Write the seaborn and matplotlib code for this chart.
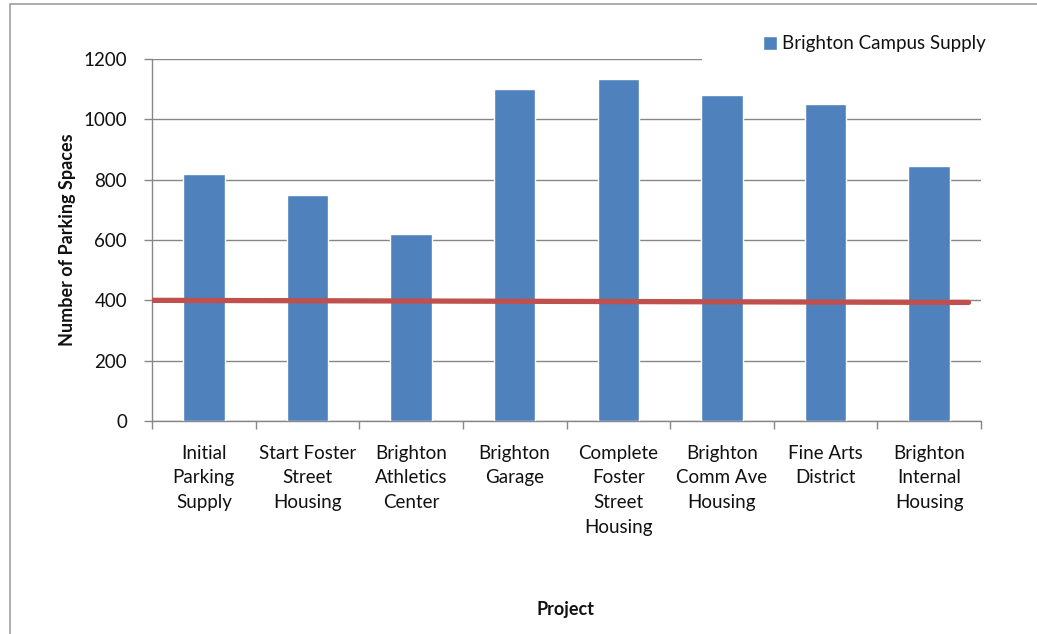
import matplotlib
matplotlib.use("Agg")
import matplotlib.pyplot as plt
import seaborn as sns
import pandas as pd
from matplotlib.patches import Rectangle

projects = ["Initial\nParking\nSupply", "Start Foster\nStreet\nHousing", "Brighton\nAthletics\nCenter",
            "Brighton\nGarage", "Complete\nFoster\nStreet\nHousing", "Brighton\nComm Ave\nHousing",
            "Fine Arts\nDistrict", "Brighton\nInternal\nHousing"]
supply = [820, 750, 620, 1100, 1135, 1080, 1052, 846]
series_name = "Brighton Campus Supply"
target_x = [-0.5, 7.38]
target_values = [400, 393]
y_ticks = [0, 200, 400, 600, 800, 1000, 1200]

sns.set_theme(style="white")
plt.rcParams['font.family'] = ['Lato', 'DejaVu Sans']

W, H = 1037, 634
TXT = "#111111"
fig = plt.figure(figsize=(W / 100, H / 100), dpi=100)
fig.patch.set_facecolor("white")
ax = fig.add_axes([152 / W, 1 - 421 / H, (981 - 152) / W, (421 - 59) / H])

df = pd.DataFrame({"project": projects, "supply": supply})
sns.barplot(data=df, x="project", y="supply", color="#4F81BD", width=0.4,
            saturation=1, ax=ax, zorder=3, label=series_name)
sns.lineplot(x=target_x, y=target_values, color="#C0504D", linewidth=3.8,
             ax=ax, zorder=4, legend=False)

ax.set_ylim(0, 1200)
ax.set_xlim(-0.5, 7.5)
ax.set_yticks(y_ticks)
ax.yaxis.grid(True, color="#878787", linewidth=1.0, zorder=0)
ax.xaxis.grid(False)
ax.set_axisbelow(True)

# category boundary ticks (major) and centred labels (minor)
ax.set_xticks([i - 0.5 for i in range(len(projects) + 1)])
ax.set_xticklabels([])
ax.set_xticks(range(len(projects)), minor=True)
ax.set_xticklabels(projects, minor=True, fontsize=13.5, color=TXT,
                   linespacing=1.56, va="top")
ax.tick_params(axis="x", which="major", direction="out", length=6, width=1,
               color="#878787", bottom=True)
ax.tick_params(axis="x", which="minor", length=0, pad=17)
ax.tick_params(axis="y", direction="out", length=6, width=1, color="#878787",
               left=True, labelsize=13.5, labelcolor=TXT, pad=12)

for s in ["top", "right"]:
    ax.spines[s].set_visible(False)
for s in ["left", "bottom"]:
    ax.spines[s].set_color("#878787")
    ax.spines[s].set_linewidth(1.0)

ax.set_xlabel("")
ax.set_ylabel("Number of Parking Spaces", fontsize=13, fontweight="bold",
              color=TXT, labelpad=5)
fig.text(566 / W, 1 - 610 / H, "Project", ha="center", va="center",
         fontsize=13, fontweight="bold", color=TXT)

# white legend area covering the top gridline
ax.add_patch(Rectangle((702 / W, 1 - 68 / H), 300 / W, 40 / H,
                       transform=fig.transFigure, facecolor="white",
                       edgecolor="none", zorder=4.5, clip_on=False))
leg = ax.legend(loc="center left", bbox_to_anchor=(763 / W, 1 - 44 / H),
                bbox_transform=fig.transFigure, frameon=False,
                prop={"size": 13.5},
                handlelength=0.72, handleheight=0.72, handletextpad=0.3,
                borderaxespad=0, borderpad=0)
leg.set_zorder(6)
for t in leg.get_texts():
    t.set_color(TXT)

# outer chart border
fig.patches.append(Rectangle((10 / W, -0.1), 1.2, 1 - 4 / H + 0.1,
                             transform=fig.transFigure, facecolor="none",
                             edgecolor="#a0a0a0", linewidth=1.2, zorder=0))

fig.savefig("out.png", dpi=100, facecolor="white")
